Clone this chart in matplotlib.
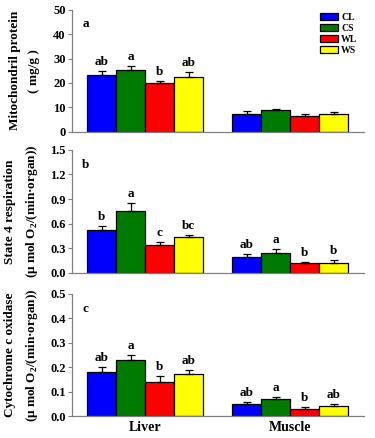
import numpy as np
import matplotlib
matplotlib.use("Agg")
import matplotlib.pyplot as plt
from matplotlib.patches import Patch

plt.rcParams["font.family"] = ["Liberation Serif", "DejaVu Serif"]
plt.rcParams["font.weight"] = "bold"
plt.rcParams["mathtext.fontset"] = "custom"
plt.rcParams["mathtext.rm"] = "Liberation Serif:bold"

groups = ["Liver", "Muscle"]
treatments = ["CL", "CS", "WL", "WS"]
colors = ["#0000FF", "#007A00", "#FF0000", "#FFFF00"]

# mitochondrial protein (mg/g)
prot_mean = [[23.4, 25.2, 20.0, 22.4], [7.3, 8.9, 6.6, 7.3]]
prot_err = [[1.3, 1.6, 0.8, 2.0], [1.1, 0.6, 0.9, 0.9]]
prot_sig = [["ab", "a", "b", "ab"], ["", "", "", ""]]

# state 4 respiration
s4_mean = [[0.52, 0.76, 0.335, 0.432], [0.19, 0.245, 0.115, 0.126]]
s4_err = [[0.055, 0.095, 0.04, 0.033], [0.034, 0.04, 0.02, 0.033]]
s4_sig = [["b", "a", "c", "bc"], ["ab", "a", "b", "b"]]

# cytochrome c oxidase
cox_mean = [[0.179, 0.228, 0.139, 0.171], [0.049, 0.068, 0.029, 0.04]]
cox_err = [[0.021, 0.021, 0.024, 0.018], [0.01, 0.01, 0.009, 0.009]]
cox_sig = [["ab", "a", "b", "ab"], ["ab", "a", "b", "ab"]]

panels = [
    ("a", "Mitochondril protein\n( mg/g )", prot_mean, prot_err, prot_sig,
     np.arange(0, 51, 10), "{:.0f}"),
    ("b", "State 4 respiration\n(\u03bc mol O$_2$/(min\u00b7organ))", s4_mean, s4_err, s4_sig,
     np.arange(0, 1.51, 0.3), "{:.1f}"),
    ("c", "Cytochrome c oxidase\n(\u03bc mol O$_2$/(min\u00b7organ))", cox_mean, cox_err, cox_sig,
     np.arange(0, 0.51, 0.1), "{:.1f}"),
]

fig = plt.figure(figsize=(3.75, 4.38), dpi=100)
rects = [[0.192, 0.699, 0.779, 0.279],
         [0.192, 0.377, 0.779, 0.281],
         [0.192, 0.050, 0.779, 0.279]]

width = 1.0
centers = [0, 5]
for (tag, ylab, means, errs, sigs, yt, fmt), r in zip(panels, rects):
    ax = fig.add_axes(r)
    ymax = yt[-1]
    for gi, c0 in enumerate(centers):
        xs = c0 + np.arange(len(treatments)) * width
        ax.bar(xs, means[gi], width=width, color=colors, edgecolor="black",
               linewidth=0.9, zorder=2)
        ax.errorbar(xs, means[gi], yerr=[np.zeros(4), errs[gi]], fmt="none",
                    ecolor="black", elinewidth=0.9, capsize=3, capthick=0.9, zorder=3)
        for x, m, e, s in zip(xs, means[gi], errs[gi], sigs[gi]):
            if s:
                ax.text(x, m + e + ymax * 0.025, s, ha="center", va="bottom",
                        fontsize=9.5, fontweight="bold")
    ax.set_xlim(-1.02, 9.05)
    ax.set_ylim(0, ymax)
    ax.set_yticks(yt)
    ax.set_yticklabels([fmt.format(v) for v in yt], fontsize=9, fontweight="bold")
    ax.set_ylabel(ylab, fontsize=9.5, fontweight="bold", linespacing=1.75)
    ax.yaxis.set_label_coords(-0.11, 0.5)
    for s in ["top", "right"]:
        ax.spines[s].set_visible(False)
    for s in ["left", "bottom"]:
        ax.spines[s].set_color("#808080")
        ax.spines[s].set_linewidth(0.9)
    ax.tick_params(axis="y", length=3, width=0.8, color="#808080", pad=1.5)
    ax.tick_params(axis="x", length=0)
    ax.text(0.035, 0.88, tag, transform=ax.transAxes, fontsize=9.5,
            fontweight="bold", va="center")
    if tag == "c":
        ax.set_xticks([c + 1.5 * width for c in centers])
        ax.set_xticklabels(groups, fontsize=10, fontweight="bold")
    else:
        ax.set_xticks([])
    if tag == "a":
        handles = [Patch(facecolor=c, edgecolor="black", linewidth=0.9) for c in colors]
        ax.legend(handles, treatments, loc="upper right", bbox_to_anchor=(1.0, 1.03),
                  frameon=False, handlelength=1.9, handleheight=0.7,
                  handletextpad=0.3, labelspacing=0.2, borderpad=0.2,
                  prop={"weight": "bold", "size": 7})

fig.savefig("out.png", dpi=100)
